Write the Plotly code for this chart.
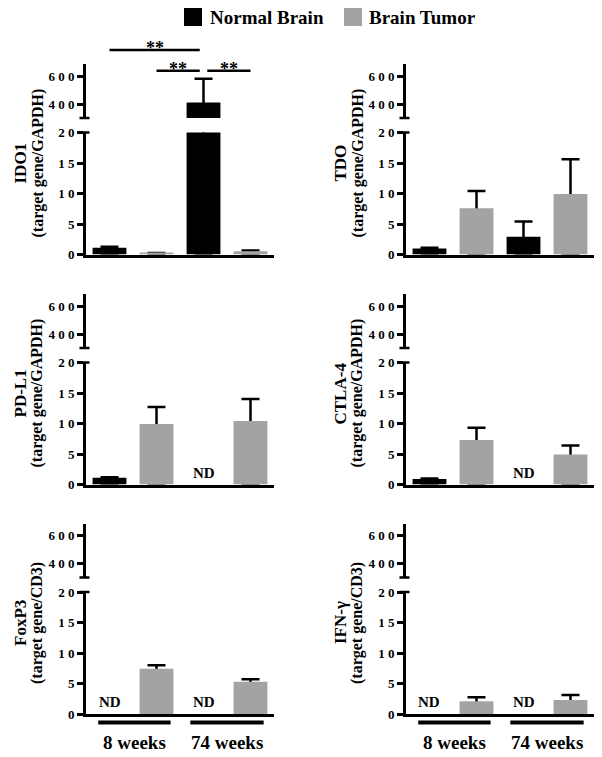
import plotly.graph_objects as go

# ---------------- data ----------------
genes = ["IDO1", "TDO", "PD-L1", "CTLA-4", "FoxP3", "IFN-γ"]
references = ["GAPDH", "GAPDH", "GAPDH", "GAPDH", "CD3", "CD3"]
bar_groups = ["8 weeks", "8 weeks", "74 weeks", "74 weeks"]
series_names = ["Normal Brain", "Brain Tumor"]

normal_8wk = [1.1, 1.0, 1.1, 0.9, None, None]
normal_8wk_err = [0.15, 0.1, 0.1, 0.1, None, None]
tumor_8wk = [0.2, 7.6, 9.9, 7.3, 7.4, 2.1]
tumor_8wk_err = [0.05, 2.8, 2.8, 2.0, 0.6, 0.65]
normal_74wk = [410, 2.9, None, None, None, None]
normal_74wk_err = [170, 2.5, None, None, None, None]
tumor_74wk = [0.55, 9.9, 10.4, 4.9, 5.3, 2.3]
tumor_74wk_err = [0.1, 5.7, 3.6, 1.5, 0.4, 0.8]

# significance brackets (IDO1 panel): (from bar, to bar, level, label)
sig_brackets = [(0, 2, 2, "**"), (1, 2, 1, "**"), (2, 3, 1, "**")]

low_ticks = [0, 5, 10, 15, 20]
high_ticks = [400, 600]
low_range = [0, 20]
high_range = [300, 685]

# ---------------- style / layout ----------------
PAGE_OFF = 8          # default body margin of the html page
W, H = 602 - PAGE_OFF, 757 - PAGE_OFF
FONT = "Liberation Serif, Times New Roman, serif"
BLACK = "#000000"
GRAY = "#a3a3a5"
colors = [BLACK, GRAY, BLACK, GRAY]

col_x0 = [86, 406]
col_w = 188
row_zero = [254.5, 484.5, 714]
LOW_H = 122
HIGH_BOT = 136.5
HIGH_TOP = 190.4


def px(p):
    return (p - PAGE_OFF) / W


def py(p):
    return 1 - (p - PAGE_OFF) / H


def spaced(v):
    return "\u2005".join(str(v))


fig = go.Figure()
layout = dict(
    width=W, height=H,
    margin=dict(l=0, r=0, t=0, b=0),
    paper_bgcolor="white", plot_bgcolor="white",
    barmode="overlay", showlegend=False,
    template="none",
    font=dict(family=FONT, color=BLACK),
)
shapes = []
annotations = []

for p, gene in enumerate(genes):
    row, col = divmod(p, 2)
    x0 = col_x0[col]
    Z = row_zero[row]
    xi = p + 1
    ylo = 2 * p + 1
    yhi = 2 * p + 2
    xname = "x" if xi == 1 else f"x{xi}"
    ylo_name = "y" if ylo == 1 else f"y{ylo}"
    yhi_name = f"y{yhi}"

    vals = [normal_8wk[p], tumor_8wk[p], normal_74wk[p], tumor_74wk[p]]
    errs = [normal_8wk_err[p], tumor_8wk_err[p], normal_74wk_err[p], tumor_74wk_err[p]]
    xs = [0, 1, 2, 3]
    minus = [v if v is not None else None for v in vals]

    for yn in (ylo_name, yhi_name):
        # error bars (drawn underneath the real bars)
        fig.add_trace(go.Bar(
            x=xs, y=vals, width=0.72, xaxis=xname, yaxis=yn,
            marker=dict(color="rgba(0,0,0,0)", line=dict(width=0)),
            error_y=dict(type="data", array=errs, arrayminus=minus, symmetric=False,
                         color=BLACK, thickness=2.5, width=9),
            hoverinfo="skip",
        ))
        fig.add_trace(go.Bar(
            x=xs, y=vals, width=0.72, xaxis=xname, yaxis=yn,
            marker=dict(color=colors, line=dict(width=0)),
            hoverinfo="skip",
        ))

    tickfont = dict(family=FONT, size=13, color=BLACK, weight="bold")
    layout[f"xaxis{xi}"] = dict(
        domain=[px(x0), px(x0 + col_w)], anchor=ylo_name, range=[-0.5, 3.5],
        showline=True, linecolor=BLACK, linewidth=3, ticks="", showticklabels=False,
        showgrid=False, zeroline=False, fixedrange=True,
    )
    layout[f"yaxis{ylo}"] = dict(
        domain=[py(Z), py(Z - LOW_H)], anchor=xname, range=low_range,
        tickvals=low_ticks, ticktext=[spaced(t) for t in low_ticks],
        ticks="outside", ticklen=6, tickwidth=2.5, tickcolor=BLACK,
        showline=True, linecolor=BLACK, linewidth=3, showgrid=False, zeroline=False,
        tickfont=tickfont, fixedrange=True,
    )
    layout[f"yaxis{yhi}"] = dict(
        domain=[py(Z - HIGH_BOT), py(Z - HIGH_TOP)], anchor=xname, range=high_range,
        tickvals=high_ticks, ticktext=[spaced(t) for t in high_ticks],
        ticks="outside", ticklen=6, tickwidth=2.5, tickcolor=BLACK,
        showline=True, linecolor=BLACK, linewidth=3, showgrid=False, zeroline=False,
        tickfont=tickfont, fixedrange=True,
    )

    # axis break caps
    ax_x = x0 - 1.5
    for yy in (Z - HIGH_BOT, Z - LOW_H):
        shapes.append(dict(type="line", xref="paper", yref="paper",
                           x0=px(ax_x - 5), x1=px(ax_x + 5), y0=py(yy), y1=py(yy),
                           line=dict(color=BLACK, width=2.5)))

    # y-axis titles
    yc = Z - 91
    annotations.append(dict(text=gene, xref="paper", yref="paper", x=px(x0 - 66), y=py(yc),
                            textangle=-90, showarrow=False, xanchor="center", yanchor="middle",
                            font=dict(family=FONT, size=17, color=BLACK, weight="bold")))
    annotations.append(dict(text=f"(target gene/{references[p]})", xref="paper", yref="paper",
                            x=px(x0 - 49), y=py(yc), textangle=-90, showarrow=False,
                            xanchor="center", yanchor="middle",
                            font=dict(family=FONT, size=16, color=BLACK, weight="bold")))

    # ND labels for not detected
    for i, v in enumerate(vals):
        if v is None:
            annotations.append(dict(text="ND", xref=xname, yref=ylo_name, x=i, y=1.9,
                                    showarrow=False, xanchor="center", yanchor="middle",
                                    font=dict(family=FONT, size=15, color=BLACK, weight="bold")))

    # group labels under bottom row
    if row == 2:
        for a, b, label in [(-0.24, 1.3, bar_groups[0]), (1.72, 3.28, bar_groups[2])]:
            shapes.append(dict(type="line", xref=xname, yref="paper", x0=a, x1=b,
                               y0=py(Z + 8.5), y1=py(Z + 8.5), line=dict(color=BLACK, width=4)))
            annotations.append(dict(text=label, xref=xname, yref="paper", x=(a + b) / 2,
                                    y=py(742), showarrow=False, xanchor="center", yanchor="middle",
                                    font=dict(family=FONT, size=19, color=BLACK, weight="bold")))

# significance brackets on IDO1
level_y = {1: 70.7, 2: 50}
for a, b, lvl, lab in sig_brackets:
    xa = a + (0.08 if a == 2 else 0.0)
    xb = b - (0.08 if b == 2 else 0.0)
    yy = level_y[lvl]
    shapes.append(dict(type="line", xref="x", yref="paper", x0=xa, x1=xb, y0=py(yy), y1=py(yy),
                       line=dict(color=BLACK, width=2.5)))
    annotations.append(dict(text=lab, xref="x", yref="paper", x=(xa + xb) / 2, y=py(yy + 10),
                            showarrow=False, xanchor="center", yanchor="bottom",
                            font=dict(family=FONT, size=18, color=BLACK, weight="bold")))

# legend
for (sx, tx), name, c in zip([(184, 208), (344, 367)], series_names, [BLACK, GRAY]):
    shapes.append(dict(type="rect", xref="paper", yref="paper", x0=px(sx), x1=px(sx + 18),
                       y0=py(26), y1=py(8), fillcolor=c, line=dict(width=0)))
    annotations.append(dict(text=name, xref="paper", yref="paper", x=px(tx), y=py(17),
                            showarrow=False, xanchor="left", yanchor="middle",
                            font=dict(family=FONT, size=19, color=BLACK, weight="bold")))

layout["shapes"] = shapes
layout["annotations"] = annotations
fig.update_layout(**layout)
fig.write_html("out.html")
